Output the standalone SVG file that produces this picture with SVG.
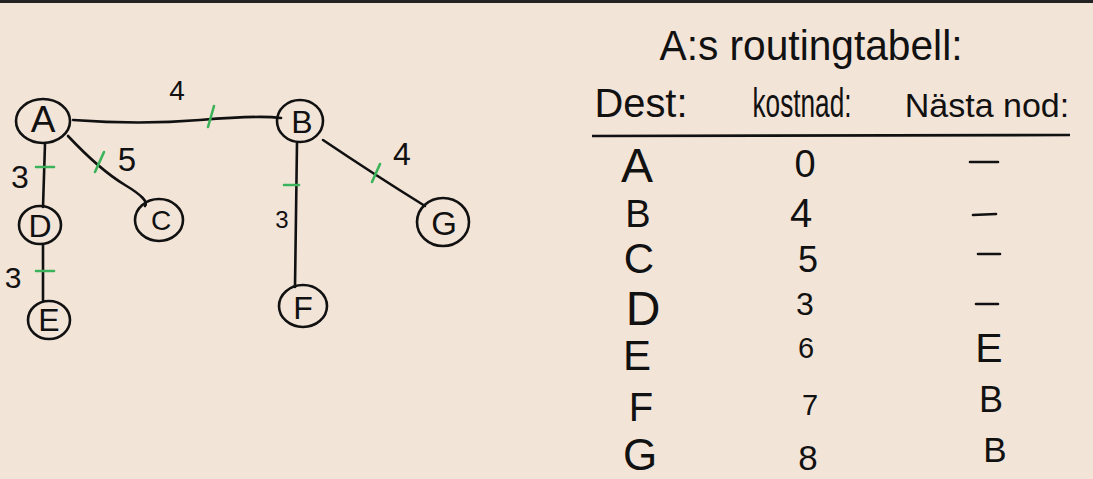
<svg xmlns="http://www.w3.org/2000/svg" width="1093" height="479" viewBox="0 0 1093 479">
<style>
.n{fill:none;stroke:#111;stroke-width:2.6}
.e{fill:none;stroke:#111;stroke-width:2.6;stroke-linecap:round}
.t{stroke:#3cb35a;stroke-width:2.6;stroke-linecap:round}
.d{stroke:#111;stroke-width:2.6;stroke-linecap:round}
text{font-family:"Liberation Sans",Arial,sans-serif;fill:#111;text-anchor:middle}
</style>
<rect width="1093" height="479" fill="#f3e4d8"/>
<rect width="1093" height="3" fill="#232323"/>
<g id="edges">
<path class="e" d="M73 120 Q140 125 200 120 T281 118"/>
<path class="e" d="M45 144 L43 207"/>
<path class="e" d="M68 136 Q100 170 125 185 T145 206"/>
<path class="e" d="M43 245 L43 300"/>
<path class="e" d="M297 143 L295 287"/>
<path class="e" d="M323 140 Q375 175 425 206"/>
<line class="t" x1="208" y1="127" x2="214" y2="106"/>
<line class="t" x1="36" y1="167" x2="54" y2="167"/>
<line class="t" x1="95" y1="172" x2="104" y2="152"/>
<line class="t" x1="36" y1="271" x2="54" y2="271"/>
<line class="t" x1="284" y1="185" x2="299" y2="185"/>
<line class="t" x1="372" y1="182" x2="380" y2="164"/>
<text x="177" y="100" font-size="28">4</text>
<text x="20" y="188" font-size="32">3</text>
<text x="127" y="171" font-size="33">5</text>
<text x="13" y="288" font-size="30">3</text>
<text x="282" y="228" font-size="24">3</text>
<text x="402" y="165" font-size="32">4</text>
</g>
<g id="A"><ellipse class="n" cx="43" cy="121" rx="27" ry="22"/><text x="43" y="132" font-size="37">A</text></g>
<g id="B"><ellipse class="n" cx="300" cy="121" rx="23" ry="21"/><text x="302" y="133" font-size="32">B</text></g>
<g id="C"><ellipse class="n" cx="159" cy="220" rx="24" ry="21"/><text x="161" y="230" font-size="28">C</text></g>
<g id="D"><ellipse class="n" cx="40" cy="225" rx="21" ry="19"/><text x="40" y="237" font-size="32">D</text></g>
<g id="E"><ellipse class="n" cx="49" cy="320" rx="21" ry="19"/><text x="49" y="331" font-size="32">E</text></g>
<g id="F"><ellipse class="n" cx="303" cy="306" rx="24" ry="21"/><text x="303" y="319" font-size="32">F</text></g>
<g id="G"><ellipse class="n" cx="443" cy="222" rx="26" ry="24"/><text x="444" y="235" font-size="33">G</text></g>
<g id="table">
<text x="811" y="60" font-size="42" textLength="303" lengthAdjust="spacingAndGlyphs">A:s routingtabell:</text>
<text x="641" y="117" font-size="40" textLength="93" lengthAdjust="spacingAndGlyphs">Dest:</text>
<text x="802" y="117" font-size="40" textLength="99" lengthAdjust="spacingAndGlyphs">kostnad:</text>
<text x="987" y="117" font-size="34">Nästa nod:</text>
<line x1="592" y1="136" x2="1070" y2="135" stroke="#111" stroke-width="2.6"/>
<text x="637" y="182" font-size="48">A</text>
<text x="638" y="227" font-size="38">B</text>
<text x="639" y="273" font-size="42">C</text>
<text x="643" y="325" font-size="48">D</text>
<text x="637" y="370" font-size="42">E</text>
<text x="641" y="421" font-size="40">F</text>
<text x="640" y="470" font-size="44">G</text>
<text x="805" y="177" font-size="38">0</text>
<text x="801" y="227" font-size="40">4</text>
<text x="808" y="272" font-size="36">5</text>
<text x="805" y="315" font-size="32">3</text>
<text x="806" y="358" font-size="29">6</text>
<text x="810" y="415" font-size="29">7</text>
<text x="808" y="470" font-size="35">8</text>
<line class="d" x1="970" y1="162" x2="998" y2="162"/>
<line class="d" x1="973" y1="215" x2="996" y2="214"/>
<line class="d" x1="978" y1="254" x2="1000" y2="254"/>
<line class="d" x1="976" y1="304" x2="998" y2="304"/>
<text x="989" y="362" font-size="41">E</text>
<text x="991" y="412" font-size="36">B</text>
<text x="995" y="462" font-size="35">B</text>
</g>
</svg>
